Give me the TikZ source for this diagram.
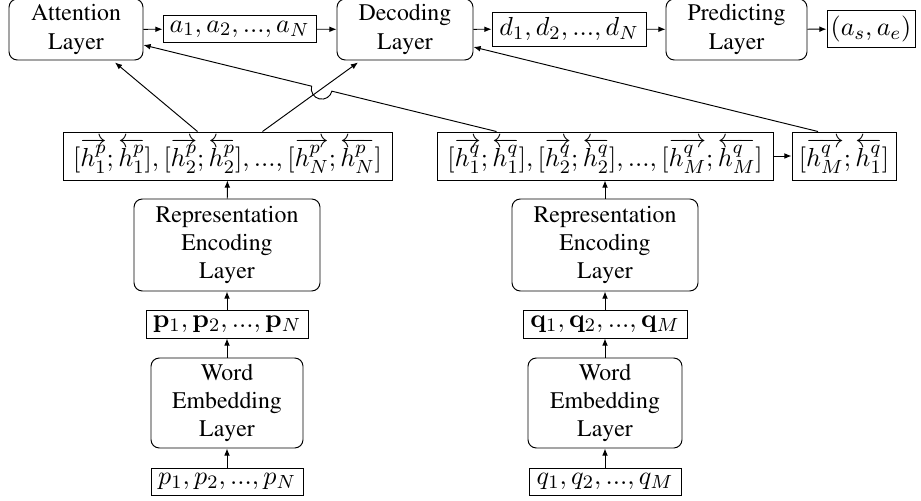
\documentclass[tikz,border=0pt]{standalone}
\usepackage[T1]{fontenc}
\usepackage{times}
\usetikzlibrary{arrows.meta,calc,intersections}
\begin{document}
\begin{tikzpicture}[x=0.42pt,y=-0.42pt,
  layerbox/.style={draw, rounded corners=3.5pt, align=center, inner sep=0pt,
    font=\fontsize{10}{11.8}\selectfont},
  valbox/.style={draw, inner sep=1pt, font=\fontsize{11.3}{13}\selectfont},
  arr/.style={-{Latex[length=3pt,width=2.4pt]}, line width=0.4pt},
  every node/.style={line width=0.4pt}]
\useasboundingbox (0,0) rectangle (921,501);

% top row
\node[layerbox, minimum width=134*0.42pt, minimum height=61*0.42pt] (att) at (76,29.5) {Attention\\Layer};
\node[valbox, minimum width=153*0.42pt, minimum height=27*0.42pt] (a) at (239.5,29) {$a_1, a_2, ..., a_N$};
\node[layerbox, minimum width=136*0.42pt, minimum height=61*0.42pt] (dec) at (405,29.5) {Decoding\\Layer};
\node[valbox, minimum width=154*0.42pt, minimum height=34*0.42pt] (d) at (569,29) {$d_1, d_2, ..., d_N$};
\node[layerbox, minimum width=141*0.42pt, minimum height=61*0.42pt] (pred) at (736.5,29.5) {Predicting\\Layer};
\node[valbox, minimum width=88*0.42pt, minimum height=37*0.42pt] (ase) at (871,29) {$(a_s, a_e)$};

% hidden states
\node[valbox, minimum width=329*0.42pt, minimum height=48*0.42pt] (hp) at (227.5,156)
  {$[\overrightarrow{h_1^p};\overleftarrow{h_1^p}], [\overrightarrow{h_2^p};\overleftarrow{h_2^p}], ..., [\overrightarrow{h_N^p};\overleftarrow{h_N^p}]$};
\node[valbox, minimum width=336*0.42pt, minimum height=48*0.42pt] (hq) at (605,156)
  {$[\overrightarrow{h_1^q};\overleftarrow{h_1^q}], [\overrightarrow{h_2^q};\overleftarrow{h_2^q}], ..., [\overrightarrow{h_M^q};\overleftarrow{h_M^q}]$};
\node[valbox, minimum width=104*0.42pt, minimum height=48*0.42pt] (hm) at (844,156)
  {$[\overrightarrow{h_M^q};\overleftarrow{h_1^q}]$};

% encoders
\node[layerbox, minimum width=186*0.42pt, minimum height=92*0.42pt] (rep1) at (227,245) {Representation\\Encoding\\Layer};
\node[layerbox, minimum width=186*0.42pt, minimum height=92*0.42pt] (rep2) at (605,245) {Representation\\Encoding\\Layer};
\node[valbox, minimum width=162*0.42pt, minimum height=28*0.42pt] (bp) at (227,324) {$\mathbf{p}_1, \mathbf{p}_2, ..., \mathbf{p}_N$};
\node[valbox, minimum width=164*0.42pt, minimum height=28*0.42pt] (bq) at (605,324) {$\mathbf{q}_1, \mathbf{q}_2, ..., \mathbf{q}_M$};
\node[layerbox, minimum width=152*0.42pt, minimum height=90*0.42pt] (we1) at (227,403) {Word\\Embedding\\Layer};
\node[layerbox, minimum width=154*0.42pt, minimum height=90*0.42pt] (we2) at (605,403) {Word\\Embedding\\Layer};
\node[valbox, minimum width=152*0.42pt, minimum height=27*0.42pt] (p) at (227,481.5) {$p_1, p_2, ..., p_N$};
\node[valbox, minimum width=152*0.42pt, minimum height=27*0.42pt] (q) at (605,481.5) {$q_1, q_2, ..., q_M$};

% horizontal arrows
\draw[arr] (att) -- (a);
\draw[arr] (a) -- (dec);
\draw[arr] (dec) -- (d);
\draw[arr] (d) -- (pred);
\draw[arr] (pred) -- (ase);
\draw[arr] (hq) -- (hm);

% vertical arrows
\draw[arr] (p) -- (we1);
\draw[arr] (we1) -- (bp);
\draw[arr] (bp) -- (rep1);
\draw[arr] (rep1) -- (hp);
\draw[arr] (q) -- (we2);
\draw[arr] (we2) -- (bq);
\draw[arr] (bq) -- (rep2);
\draw[arr] (rep2) -- (hq);

% diagonal arrows
\coordinate (c1) at ($(hp.north)+(-30,0)$);
\coordinate (c2) at ($(att.south)+(39,2)$);
\coordinate (a1) at ($(hp.north)+(35,0)$);
\coordinate (a2) at ($(dec.south)+(-47,2)$);
\coordinate (b1) at ($(hq.north west)+(60,0)$);
\coordinate (b2) at ($(att.east)+(0,15.5)$);
\coordinate (m1) at ($(hm.north)+(-26,0)$);
\coordinate (m2) at ($(dec.east)+(0,17.5)$);

\draw[arr] (c1) -- (c2);
\draw[arr, name path=lineA] (a1) -- (a2);
\path[name path=lineB] (b1) -- (b2);
\path[name intersections={of=lineA and lineB, by=xx}];
\draw[arr] let \p1=($(b1)-(xx)$), \n1={atan2(\y1,\x1)} in
  (b1) -- ($(xx)!4.4pt!(b1)$) arc[start angle=\n1, delta angle=-180, radius=4.4pt] -- (b2);
\draw[arr] (m1) -- (m2);
\end{tikzpicture}
\end{document}
